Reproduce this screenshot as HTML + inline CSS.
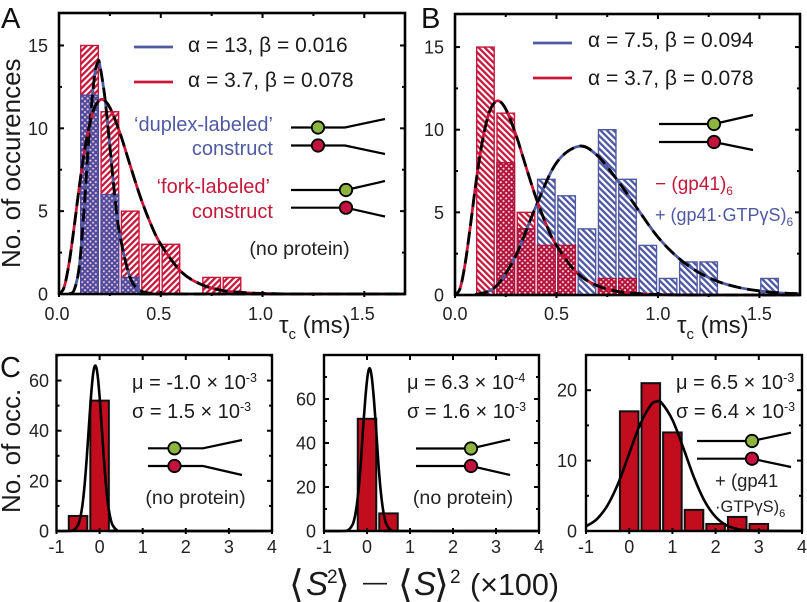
<!DOCTYPE html>
<html lang="en">
<head>
<meta charset="utf-8">
<title>Occurrence histograms</title>
<style>
html,body{margin:0;padding:0;background:#fff;}
svg{display:block;font-family:"Liberation Sans",Arial,sans-serif;}
.tick{font-size:18px;fill:#222;}
.ytitle{font-size:26px;fill:#1a1a1a;}
.panel{font-size:29px;fill:#111;}
.leg{font-size:21px;fill:#1a1a1a;}
.stat{font-size:20px;fill:#1a1a1a;}
.blue{fill:#4f5aa3;font-size:20px;}
.red{fill:#c3183a;font-size:20px;}
.note{font-size:19.6px;fill:#222;}
.big{font-size:30.5px;fill:#1a1a1a;}
.brk{font-family:"DejaVu Sans",sans-serif;font-size:38px;fill:#1a1a1a;}
.ital{font-family:"Liberation Sans",sans-serif;font-style:italic;font-size:33px;fill:#1a1a1a;}
</style>
</head>
<body>
<svg id="figure" xmlns="http://www.w3.org/2000/svg" width="807" height="602" viewBox="0 0 807 602">
<defs>
<pattern id="hatchRedA" patternUnits="userSpaceOnUse" width="4.4" height="4.4" patternTransform="rotate(45)"><rect width="4.4" height="4.4" fill="#fff"/><rect width="2.3" height="4.4" fill="#c8173a"/></pattern>
<pattern id="hatchRedB" patternUnits="userSpaceOnUse" width="4.4" height="4.4" patternTransform="rotate(-45)"><rect width="4.4" height="4.4" fill="#fff"/><rect width="2.3" height="4.4" fill="#c8173a"/></pattern>
<pattern id="hatchBlue" patternUnits="userSpaceOnUse" width="4.6" height="4.6" patternTransform="rotate(-45)"><rect width="4.6" height="4.6" fill="#fff"/><rect width="2.4" height="4.6" fill="#4f5aa3"/></pattern>
<pattern id="dotsBlue" patternUnits="userSpaceOnUse" width="5.4" height="5.4"><rect width="5.4" height="5.4" fill="#4d4a9e"/><circle cx="1.3" cy="1.3" r="1.05" fill="#f3c9d6"/><circle cx="4" cy="4" r="1.05" fill="#f3c9d6"/></pattern>
<pattern id="dotsRed" patternUnits="userSpaceOnUse" width="5.4" height="5.4"><rect width="5.4" height="5.4" fill="#b3123a"/><circle cx="1.3" cy="1.3" r="1.05" fill="#f6dde4"/><circle cx="4" cy="4" r="1.05" fill="#f6dde4"/></pattern>
</defs>

<g id="panelA"></g>
<g id="panelB"></g>
<g id="panelC1"></g>
<g id="panelC2"></g>
<g id="panelC3"></g>

<text class="panel" x="1" y="28">A</text>
<text class="panel" x="421" y="28">B</text>
<text class="panel" x="0" y="377">C</text>

<text class="ytitle" transform="translate(20,268) rotate(-90)">No. of occurences</text>
<text class="ytitle" transform="translate(20,513) rotate(-90)">No. of occ.</text>

<text x="279" y="333" style="font-size:24px;fill:#1a1a1a">τ<tspan dy="6" style="font-size:15px">c</tspan><tspan dy="-6"> (ms)</tspan></text>
<text x="677" y="333" style="font-size:24px;fill:#1a1a1a">τ<tspan dy="6" style="font-size:15px">c</tspan><tspan dy="-6"> (ms)</tspan></text>

<line x1="134" x2="173" y1="47" y2="47" stroke="#4f5aa3" stroke-width="2.8"/>
<line x1="134" x2="173" y1="82" y2="82" stroke="#c8173a" stroke-width="2.8"/>
<text class="leg" x="188" y="52">α = 13, β = 0.016</text>
<text class="leg" x="188" y="87">α = 3.7, β = 0.078</text>
<line x1="533" x2="572" y1="43" y2="43" stroke="#4f5aa3" stroke-width="2.8"/>
<line x1="533" x2="572" y1="78" y2="78" stroke="#c8173a" stroke-width="2.8"/>
<text class="leg" x="588" y="47">α = 7.5, β = 0.094</text>
<text class="leg" x="588" y="85">α = 3.7, β = 0.078</text>

<text class="blue" x="273" y="131" text-anchor="end">‘duplex-labeled’</text>
<text class="blue" x="273" y="155" text-anchor="end">construct</text>
<text class="red" x="270" y="193" text-anchor="end">‘fork-labeled’</text>
<text class="red" x="273" y="218" text-anchor="end">construct</text>
<text class="note" x="299.5" y="255" text-anchor="middle">(no protein)</text>

<text class="red" x="655" y="190" style="font-size:19px">− (gp41)<tspan dy="5" style="font-size:12px">6</tspan></text>
<text class="blue" x="655" y="221" style="font-size:18px">+ (gp41·GTPγS)<tspan dy="5" style="font-size:12px">6</tspan></text>

<text class="stat" x="132" y="389">μ = -1.0 × 10<tspan dy="-7" style="font-size:12.5px">-3</tspan></text>
<text class="stat" x="132" y="418">σ = 1.5 × 10<tspan dy="-7" style="font-size:12.5px">-3</tspan></text>
<text class="note" x="195.5" y="504" text-anchor="middle">(no protein)</text>
<text class="stat" x="407" y="389">μ = 6.3 × 10<tspan dy="-7" style="font-size:12.5px">-4</tspan></text>
<text class="stat" x="407" y="418">σ = 1.6 × 10<tspan dy="-7" style="font-size:12.5px">-3</tspan></text>
<text class="note" x="463" y="504" text-anchor="middle">(no protein)</text>
<text class="stat" x="676" y="389">μ = 6.5 × 10<tspan dy="-7" style="font-size:12.5px">-3</tspan></text>
<text class="stat" x="676" y="418">σ = 6.4 × 10<tspan dy="-7" style="font-size:12.5px">-3</tspan></text>
<text class="note" x="715" y="487" style="font-size:18.5px">+ (gp41</text>
<text class="note" x="715" y="512" style="font-size:16.5px">·GTPγS)<tspan dy="5" style="font-size:11px">6</tspan></text>

<g id="schematics"></g>

<g>
<text class="brk" x="289" y="597">⟨</text>
<text class="ital" x="306" y="595">S</text>
<text class="big" x="327" y="583" style="font-size:19px">2</text>
<text class="brk" x="335" y="597">⟩</text>
<text class="big" x="363" y="590" style="font-size:24px">—</text>
<text class="brk" x="398" y="597">⟨</text>
<text class="ital" x="414" y="595">S</text>
<text class="brk" x="434" y="597">⟩</text>
<text class="big" x="450" y="583" style="font-size:19px">2</text>
<text class="big" x="470" y="595">(×100)</text>
</g>
</svg>

<script>
/* histogram bins (left edge, ms) */
var binStartsTau = [0.1,0.2,0.3,0.4,0.5,0.6,0.7,0.8,0.9,1.0,1.1,1.2,1.3,1.4,1.5];
var binWidthTau = 0.1;
var forkCounts   = [15,11,5,3,3,0,1,1,0,0,0,0,0,0,0];
var duplexCounts = [12,6,1,0,0,0,0,0,0,0,0,0,0,0,0];
var proteinCounts= [0,8,4,7,6,4,10,7,3,1,2,2,0,0,1];

/* curves */
var forkCurveX   = [0,0.025,0.05,0.075,0.1,0.125,0.15,0.175,0.21,0.25,0.3,0.35,0.4,0.45,0.5,0.6,0.7,0.8,0.9,1.0,1.2,1.7];
var forkCurveY   = [0,0.4,1.9,4.1,6.5,8.6,10.2,11.25,11.75,11.25,9.7,7.75,5.85,4.25,3.0,1.35,0.57,0.22,0.09,0.03,0,0];
var duplexCurveX = [0.05,0.075,0.1,0.125,0.15,0.175,0.192,0.2,0.225,0.25,0.275,0.3,0.35,0.4,0.45,0.5,1.7];
var duplexCurveY = [0,0.26,1.7,5.4,10,13.2,14,13.85,11.9,8.9,5.8,3.5,0.97,0.21,0.04,0,0];
var proteinCurveX= [0.1,0.2,0.3,0.4,0.5,0.611,0.7,0.8,0.9,1.0,1.1,1.2,1.3,1.4,1.5,1.6,1.7];
var proteinCurveY= [0.02,0.5,2.4,5.4,8,9,8.45,6.95,5.2,3.5,2.25,1.37,0.8,0.45,0.25,0.13,0.07];

/* panel C */
var c1Centers=[-0.5,0];
var c1Counts=[6,52];
var c1CurveX=[-1,-0.7,-0.6,-0.5,-0.45,-0.4,-0.35,-0.3,-0.25,-0.2,-0.15,-0.1,-0.05,0,0.05,0.1,0.15,0.2,0.25,0.3,0.4,0.5,4];
var c1CurveY=[0,0,0.36,2.4,5.2,10.1,18,28.7,41.3,53.6,62.7,66,62.7,53.6,41.3,28.7,18,10.1,5.2,2.4,0.36,0,0];
var c2Centers=[0,0.5];
var c2Counts=[51,8];
var c2CurveX=[-1,-0.55,-0.44,-0.34,-0.29,-0.24,-0.19,-0.14,-0.09,-0.04,0.01,0.06,0.11,0.16,0.21,0.26,0.31,0.36,0.41,0.46,0.56,0.67,4];
var c2CurveY=[0,0,0.4,2.7,5.8,11.4,20,32,47,60,70,74,70,60,47,32,20,11.4,5.8,2.7,0.4,0,0];
var c3Centers=[0,0.5,1,1.5,2,2.5,3];
var c3Counts=[17,21,14,3,1,2,1];
var c3CurveX=[-1,-0.75,-0.5,-0.25,0,0.25,0.5,0.65,0.75,1,1.25,1.5,1.75,2,2.25,2.5,2.75,3,4];
var c3CurveY=[0.66,1.68,3.67,6.84,11,15.1,17.9,18.4,18.2,15.8,11.85,7.6,4.2,2,0.81,0.28,0.08,0.02,0];

/* tick labels */
var tauTickLabels=["0.0","0.5","1.0","1.5"];
var countTickLabelsTau=["0","5","10","15"];
var sTickLabels=["-1","0","1","2","3","4"];
var c1YLabels=["0","20","40","60"];
var c2YLabels=["0","20","40","60"];
var c3YLabels=["0","10","20"];

var NS="http://www.w3.org/2000/svg";
function el(parent,tag,attrs){
  var e=document.createElementNS(NS,tag);
  for(var k in attrs){e.setAttribute(k,attrs[k]);}
  parent.appendChild(e);
  return e;
}
function linear(d0,d1,p0,p1){return function(v){return p0+(v-d0)*(p1-p0)/(d1-d0);};}
function smoothPath(xs,ys,X,Y){
  var pts=xs.map(function(x,i){return [X(x),Y(ys[i])];});
  var d="M"+pts[0][0].toFixed(2)+" "+pts[0][1].toFixed(2);
  for(var i=0;i<pts.length-1;i++){
    var p0=pts[Math.max(0,i-1)],p1=pts[i],p2=pts[i+1],p3=pts[Math.min(pts.length-1,i+2)];
    var c1x=p1[0]+(p2[0]-p0[0])/6,c1y=p1[1]+(p2[1]-p0[1])/6;
    var c2x=p2[0]-(p3[0]-p1[0])/6,c2y=p2[1]-(p3[1]-p1[1])/6;
    d+="C"+c1x.toFixed(2)+" "+c1y.toFixed(2)+" "+c2x.toFixed(2)+" "+c2y.toFixed(2)+" "+p2[0].toFixed(2)+" "+p2[1].toFixed(2);
  }
  return d;
}
function drawFrame(g,box,X,Y,xMaj,xMin,yMaj,yMin,xLabels,yLabels,sw){
  var i,t;
  function tick(x1,y1,x2,y2,w){
    t=el(g,"line",{x1:x1,y1:y1,x2:x2,y2:y2,stroke:"#000","stroke-width":w});
    
    
  }
  xMaj.forEach(function(v){tick(X(v),box.t,X(v),box.t+5,2);tick(X(v),box.b-3,X(v),box.b+3,2);});
  xMin.forEach(function(v){tick(X(v),box.t,X(v),box.t+3,2);tick(X(v),box.b,X(v),box.b+2,2);});
  yMaj.forEach(function(v){tick(box.l,Y(v),box.l+5,Y(v),2);tick(box.r,Y(v),box.r-5,Y(v),2);});
  yMin.forEach(function(v){tick(box.l,Y(v),box.l+3,Y(v),2);tick(box.r,Y(v),box.r-3,Y(v),2);});
  var f=el(g,"rect",{x:box.l,y:box.t,width:box.r-box.l,height:box.b-box.t,fill:"none",stroke:"#000","stroke-width":sw});
  
  
  for(i=0;i<xLabels.length;i++){
    t=el(g,"text",{x:X(xMaj[i])+box.xdx,y:box.xy,"text-anchor":"middle","class":"tick"});
    t.textContent=xLabels[i];
    
    
  }
  for(i=0;i<yLabels.length;i++){
    t=el(g,"text",{x:box.yx,y:Y(yMaj[i])+6.5,"text-anchor":"end","class":"tick"});
    t.textContent=yLabels[i];
    
    
  }
}
function hatchBars(g,starts,counts,X,Y,fill,stroke,name){
  starts.forEach(function(s,i){
    if(counts[i]<=0)return;
    var x0=X(s)+1.4,x1=X(s+binWidthTau)-1.4;
    var r=el(g,"rect",{x:x0,y:Y(counts[i]),width:x1-x0,height:Y(0)-Y(counts[i]),fill:fill,stroke:stroke,"stroke-width":1.4});
    
    
  });
}
function curve(g,xs,ys,X,Y,color,name,dashOff){
  var d=smoothPath(xs,ys,X,Y);
  var a=el(g,"path",{d:d,fill:"none",stroke:color,"stroke-width":2.8});
  
  
  var b=el(g,"path",{d:d,fill:"none",stroke:"#000","stroke-width":2.8,"stroke-dasharray":"13 6","stroke-dashoffset":dashOff});
  
  
}
function minOf(a,b){return a.map(function(v,i){return Math.min(v,b[i]);});}
function panelTau(id,box,redFill,secondCounts,secondFill,secondStroke,overlapFill,overlapStroke,secondName){
  var g=document.getElementById(id);
  var X=linear(0,1.7,box.l,box.r),Y=linear(0,box.ymax,box.b,box.t);
  hatchBars(g,binStartsTau,forkCounts,X,Y,redFill,"#c8173a","bar-fork");
  if(secondFill){hatchBars(g,binStartsTau,secondCounts,X,Y,secondFill,secondStroke,secondName);}
  hatchBars(g,binStartsTau,minOf(forkCounts,secondCounts),X,Y,overlapFill,overlapStroke,"bar-overlap");
  return {g:g,X:X,Y:Y};
}
var boxA={l:59,r:405,t:13,b:294,ymax:16.96,xdx:-2,xy:320,yx:48};
var A=panelTau("panelA",boxA,"url(#hatchRedA)",duplexCounts,null,null,"url(#dotsBlue)","#4d4a9e","bar-duplex");
curve(A.g,duplexCurveX,duplexCurveY,A.X,A.Y,"#4f5aa3","curve-duplex",0);
curve(A.g,forkCurveX,forkCurveY,A.X,A.Y,"#c8173a","curve-fork",4);
drawFrame(A.g,boxA,A.X,A.Y,[0,0.5,1,1.5],[0.25,0.75,1.25],[0,5,10,15],[2.5,7.5,12.5],tauTickLabels,countTickLabelsTau,2.6);

var boxB={l:455,r:800,t:14,b:295,ymax:17,xdx:0,xy:320,yx:444};
var B=panelTau("panelB",boxB,"url(#hatchRedB)",proteinCounts,"url(#hatchBlue)","#4f5aa3","url(#dotsRed)","#b3123a","bar-protein");
curve(B.g,proteinCurveX,proteinCurveY,B.X,B.Y,"#4f5aa3","curve-protein",0);
curve(B.g,forkCurveX,forkCurveY,B.X,B.Y,"#c8173a","curve-no-protein",4);
drawFrame(B.g,boxB,B.X,B.Y,[0,0.5,1,1.5],[0.25,0.75,1.25],[0,5,10,15],[2.5,7.5,12.5],tauTickLabels,countTickLabelsTau,2.6);

function panelS(id,box,centers,counts,cx,cy,yMaj,yMin,yLabels){
  var g=document.getElementById(id);
  var X=linear(-1,4,box.l,box.r),Y=linear(0,box.ymax,box.b,box.t);
  centers.forEach(function(c,i){
    var x0=X(c-0.215),x1=X(c+0.215);
    var r=el(g,"rect",{x:x0,y:Y(counts[i]),width:x1-x0,height:Y(0)-Y(counts[i]),fill:"#c20d1f",stroke:"#111","stroke-width":2});
    
    
  });
  var p=el(g,"path",{d:smoothPath(cx,cy,X,Y),fill:"none",stroke:"#000","stroke-width":2.6});
  
  
  drawFrame(g,box,X,Y,[-1,0,1,2,3,4],[],yMaj,yMin,sTickLabels,yLabels,2.4);
}
panelS("panelC1",{l:56.5,r:272,t:355,b:531,ymax:70.2,xdx:0,xy:553,yx:49},c1Centers,c1Counts,c1CurveX,c1CurveY,[0,20,40,60],[10,30,50,70],c1YLabels);
panelS("panelC2",{l:324,r:539,t:355,b:531,ymax:80,xdx:0,xy:553,yx:316},c2Centers,c2Counts,c2CurveX,c2CurveY,[0,20,40,60],[10,30,50,70],c2YLabels);
panelS("panelC3",{l:586,r:802,t:355,b:531,ymax:25,xdx:0,xy:553,yx:577},c3Centers,c3Counts,c3CurveX,c3CurveY,[0,10,20],[5,15],c3YLabels);

function schematic(x0,kink,dotX,xEnd,yTop,yBot,yTopEnd,yBotEnd,name){
  var g=el(document.getElementById("schematics"),"g",{});
  
  
  el(g,"polyline",{points:x0+","+yTop+" "+kink+","+yTop+" "+xEnd+","+yTopEnd,fill:"none",stroke:"#000","stroke-width":2.2});
  el(g,"polyline",{points:x0+","+yBot+" "+kink+","+yBot+" "+xEnd+","+yBotEnd,fill:"none",stroke:"#000","stroke-width":2.2});
  el(g,"circle",{cx:dotX,cy:yTop,r:6.2,fill:"#8db43e",stroke:"#000","stroke-width":1.8});
  el(g,"circle",{cx:dotX,cy:yBot,r:6.2,fill:"#c4123e",stroke:"#000","stroke-width":1.8});
}
schematic(291,345,318,385,127.5,145.5,119,154,"schematic-duplex-labeled");
schematic(291,346,346,385,190,207.7,181,216.5,"schematic-fork-labeled");
schematic(659,714,714,753,124,142,115,150,"schematic-panel-b");
schematic(148,203,174.5,242,448.3,466,440,475,"schematic-c-left");
schematic(416,471,471,510,448.5,466,439.5,475,"schematic-c-middle");
schematic(697,752,752,791,441,458.7,432.7,467,"schematic-c-right");
</script>
</body>
</html>
